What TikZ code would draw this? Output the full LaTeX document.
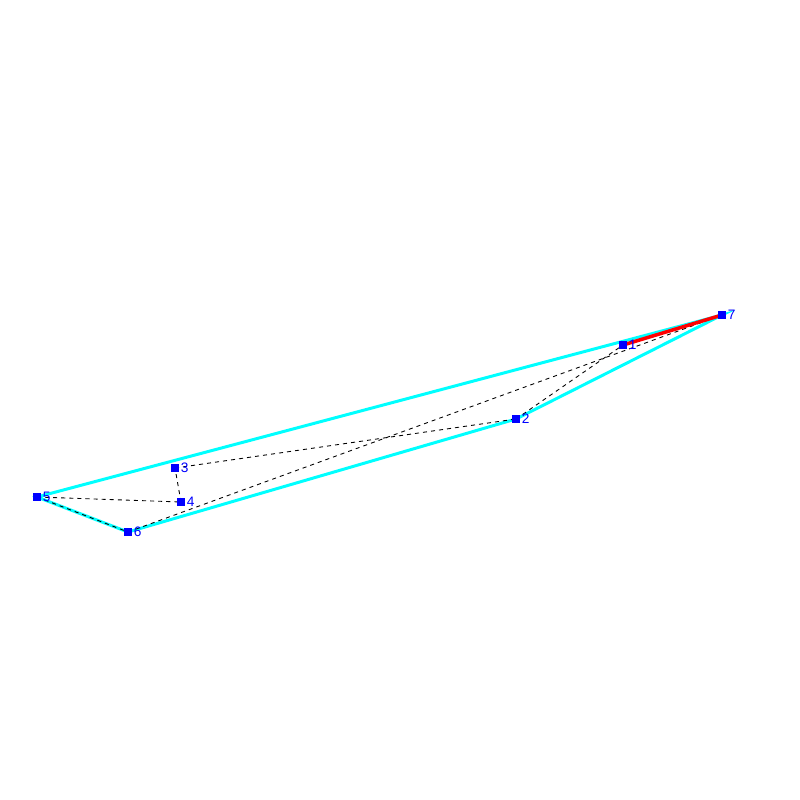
\documentclass[tikz,border=0pt]{standalone}
\usepackage{fontspec}
\setsansfont{Liberation Sans}
\usetikzlibrary{positioning,backgrounds}
\definecolor{hullcyan}{RGB}{0,255,255}
\definecolor{ptblue}{RGB}{0,0,255}

\begin{document}
\begin{tikzpicture}[x=0.02cm,y=-0.02cm,
                    vert/.style={rectangle,fill=ptblue,inner sep=0pt,minimum size=4.6pt,
                    label={[font=\sffamily\fontsize{7.8}{8}\selectfont,text=ptblue,
                    inner sep=0.6pt]right:#1}},
                    hull/.style={hullcyan,line width=1.7pt},
                    tri/.style={black,line width=0.5pt,dash pattern=on 2.3pt off 2.3pt}]

\useasboundingbox (0,0) rectangle (800,800);

% vertices
\node[vert=1] (p1) at (623,345) {};
\node[vert=2] (p2) at (516,419) {};
\node[vert=3] (p3) at (175,468) {};
\node[vert=4] (p4) at (181,502) {};
\node[vert=5] (p5) at (37,497) {};
\node[vert=6] (p6) at (128,532) {};
\node[vert=7] (p7) at (722,315) {};

\begin{pgfonlayer}{background}
% convex hull
\draw[hull] (p5.center) -- (p7.center) -- (p2.center) -- (p6.center) -- cycle;

% triangulation
\foreach \a/\b in {5/6,5/4,4/3,3/2,2/1,1/7,6/7}
    \draw[tri] (p\a.center) -- (p\b.center);

\draw[red,line width=2pt] (p1.center) -- (p7.center);
\end{pgfonlayer}

\end{tikzpicture}
\end{document}
